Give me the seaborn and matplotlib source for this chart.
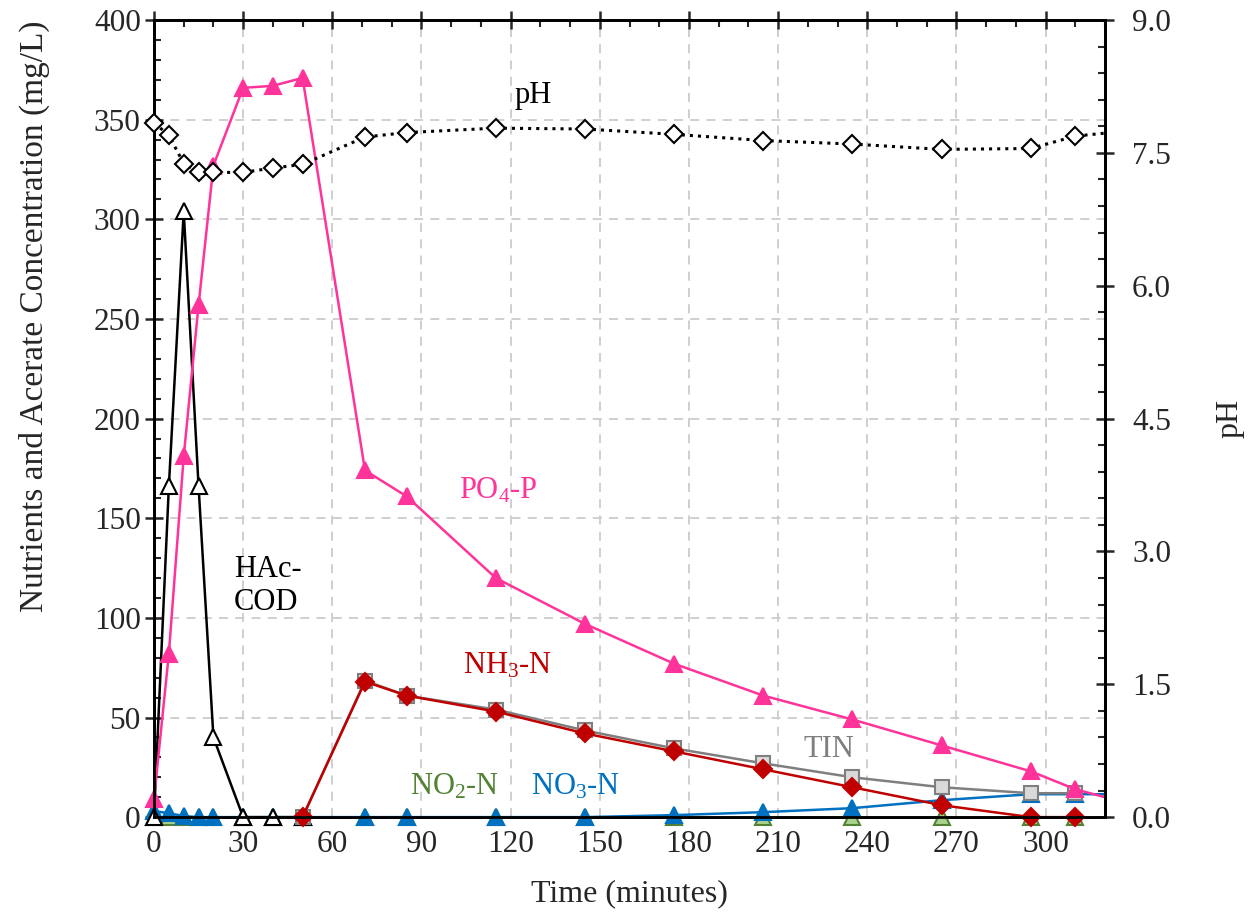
import numpy as np
import pandas as pd
import matplotlib
matplotlib.use("Agg")
import matplotlib.pyplot as plt
import seaborn as sns
from matplotlib.ticker import MultipleLocator, FormatStrFormatter

# time points (minutes); last point lies past the axis end and is clipped
t_all = [0, 5, 10, 15, 20, 30, 40, 50, 71, 85, 115, 145, 175, 205, 235, 265, 295, 310, 325]

po4 = [9, 82, 181, 257, 327, 366, 367, 371, 174, 161, 120, 97, 77, 61, 49, 36, 23, 14, 8]
ph = [7.84, 7.70, 7.38, 7.28, 7.28, 7.28, 7.33, 7.37, 7.68, 7.73, 7.78, 7.77, 7.71,
      7.64, 7.60, 7.54, 7.55, 7.69, 7.74]
no3 = [3, 2, 0.5, 0, 0, 0, 0, 0, 0, 0, 0, 0, 1, 2.5, 4.5, 8.5, 11.5, 11.5, 11.5]
no2 = [0, 0, 0, 0, 0, 0, 0, 0, 0, 0, 0, 0, 0, 0, 0, 0, 0, 0, 0]

t_hac = [0, 5, 10, 15, 20, 30, 40, 50]
hac = [0, 166, 304, 166, 40, 0, 0, 0]

t_n = [50, 71, 85, 115, 145, 175, 205, 235, 265, 295, 310]
nh3 = [0, 68, 61, 53, 42, 33, 24, 15, 6, 0, 0]
tin = [0, 68.5, 61, 54, 43.5, 34.5, 27, 20, 15, 12, 12]

sns.set_style("white")
plt.rcParams['font.family'] = ['Liberation Serif', 'DejaVu Serif']
plt.rcParams['mathtext.fontset'] = 'custom'
plt.rcParams['mathtext.rm'] = 'Liberation Serif'
plt.rcParams['mathtext.default'] = 'regular'

fig = plt.figure(figsize=(12.52, 9.13), dpi=100)
ax = fig.add_axes([0.123, 0.105, 0.7596, 0.873])
ax2 = ax.twinx()

XMAX = 320


def series(a, t, y, color, marker, ms, mfc, z, lw=1.8, ls='-', mew=1.5):
    # line clipped to the axes, markers drawn unclipped (only those inside the x range)
    sns.lineplot(x=t, y=y, ax=a, color=color, lw=lw, ls=ls, zorder=z)
    df = pd.DataFrame({'t': t, 'y': y})
    df = df[df['t'] <= XMAX]
    sns.lineplot(data=df, x='t', y='y', ax=a, lw=0, marker=marker, ms=ms,
                 markerfacecolor=mfc, markeredgecolor=color, markeredgewidth=mew,
                 zorder=z + 0.5, clip_on=False)


series(ax, t_all, no2, '#548235', '^', 11, '#A9D18E', 3)
series(ax, t_all, no3, '#0070C0', '^', 11, '#0070C0', 4)
series(ax, t_hac, hac, 'black', '^', 11, 'white', 5)
series(ax, t_n, tin, '#7F7F7F', 's', 10, '#D9D9D9', 5.2)
series(ax, t_n, nh3, '#C00000', 'D', 9, '#C00000', 6)
series(ax, t_all, po4, '#FF3399', '^', 12, '#FF3399', 7)
series(ax2, t_all, ph, 'black', 'D', 9.5, 'white', 8, lw=2.2, ls=':')

ax.set_xlim(0, XMAX)
ax.set_ylim(0, 400)
ax2.set_ylim(0, 9)

ax.xaxis.set_major_locator(MultipleLocator(30))
ax.xaxis.set_minor_locator(MultipleLocator(10))
ax.yaxis.set_major_locator(MultipleLocator(50))
ax.yaxis.set_minor_locator(MultipleLocator(10))
ax2.yaxis.set_major_locator(MultipleLocator(1.5))
ax2.yaxis.set_minor_locator(MultipleLocator(0.3))
ax2.yaxis.set_major_formatter(FormatStrFormatter('%.1f'))

ax.grid(True, which='major', color='#CCCCCC', ls=(0, (5, 4)), lw=1.3)
ax.set_axisbelow(True)

for a in (ax, ax2):
    for s in a.spines.values():
        s.set_color('black')
        s.set_linewidth(2)
ax.tick_params(axis='both', which='major', direction='inout', length=13, width=1.8,
               labelsize=22.5, top=True, pad=3)
ax.tick_params(axis='both', which='minor', direction='in', length=5, width=1.5, top=True)
ax.tick_params(axis='y', right=False, which='both')
ax2.tick_params(axis='y', which='major', direction='inout', length=13, width=1.8,
                labelsize=22.5, pad=13)
ax2.tick_params(axis='y', which='minor', direction='in', length=5, width=1.5)

ax.set_xlabel('Time (minutes)', fontsize=23, labelpad=14)
ax.set_ylabel('Nutrients and Acerate Concentration (mg/L)', fontsize=24)
ax.yaxis.set_label_coords(-0.109, 0.629)
ax2.set_ylabel('pH', fontsize=23, labelpad=32)

fs = 22
ax.text(127.5, 362, 'pH', fontsize=fs, color='black', ha='center', va='center')
ax.text(116, 164, 'PO$_4$-P', fontsize=fs, color='#FF3399', ha='center', va='center')
ax.text(27, 116, 'HAc-\nCOD', fontsize=fs, color='black', ha='left', va='center', linespacing=1.15)
ax.text(119, 76, 'NH$_3$-N', fontsize=fs, color='#C00000', ha='center', va='center')
ax.text(227, 34, 'TIN', fontsize=fs, color='#7F7F7F', ha='center', va='center')
ax.text(101, 15, 'NO$_2$-N', fontsize=fs, color='#548235', ha='center', va='center')
ax.text(142, 15, 'NO$_3$-N', fontsize=fs, color='#0070C0', ha='center', va='center')

fig.savefig('out.png', dpi=100)
